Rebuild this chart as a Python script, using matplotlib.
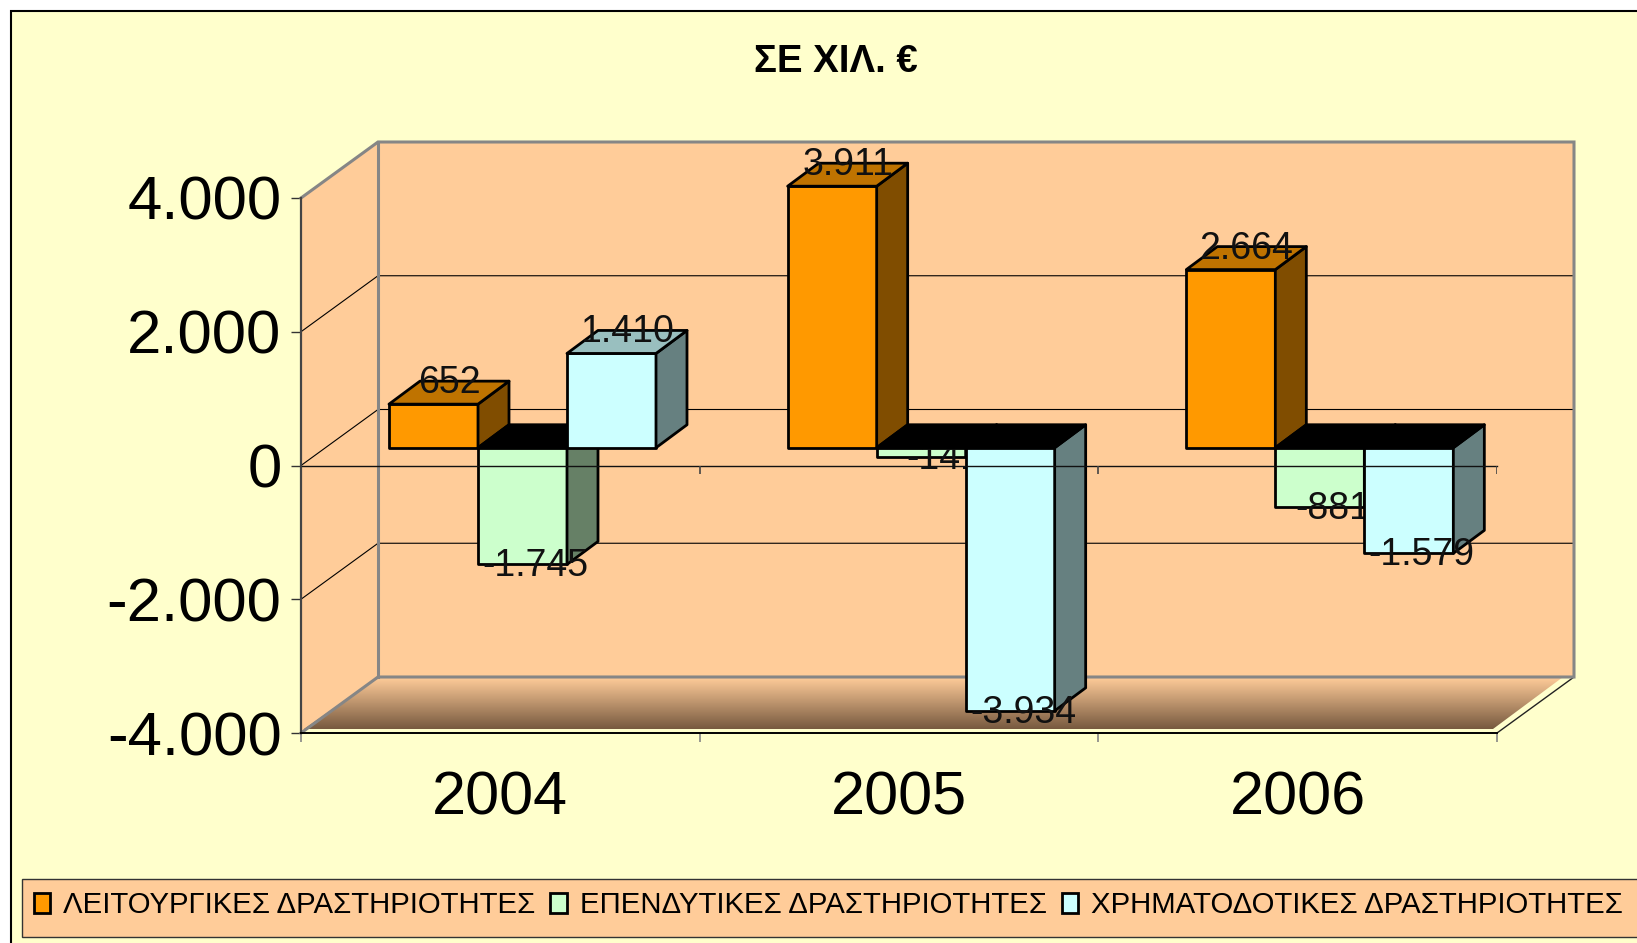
import numpy as np
import matplotlib
matplotlib.use("Agg")
import matplotlib.pyplot as plt
from matplotlib.colors import LinearSegmentedColormap
from matplotlib.patches import Patch, Polygon, Rectangle

plt.rcParams['font.family'] = ['Liberation Sans', 'DejaVu Sans']

years = ['2004', '2005', '2006']
series_names = ['ΛΕΙΤΟΥΡΓΙΚΕΣ ΔΡΑΣΤΗΡΙΟΤΗΤΕΣ', 'ΕΠΕΝΔΥΤΙΚΕΣ ΔΡΑΣΤΗΡΙΟΤΗΤΕΣ', 'ΧΡΗΜΑΤΟΔΟΤΙΚΕΣ ΔΡΑΣΤΗΡΙΟΤΗΤΕΣ']
operating = [652, 3911, 2664]
investing = [-1745, -141, -881]
financing = [1410, -3934, -1579]
y_ticks = [-4000, -2000, 0, 2000, 4000]
y_labels = ['-4.000', '-2.000', '0', '2.000', '4.000']

W, H = 1637, 943
YELLOW = '#FFFFCC'
PEACH = '#FFCC99'
GRAY = '#868686'
# front, top, side
colors = [('#FF9900', '#BF7300', '#804D00'),
          ('#CCFFCC', '#99BF99', '#668066'),
          ('#CCFFFF', '#99BFBF', '#668080')]

# pixel sizes of the fake 3d, turned into data units below
PX_X = (1497 - 301) / 3.0
PX_Y = (733 - 198) / 8000.0
WALL_DX = 77 / PX_X
WALL_DY = 56 / PX_Y
BAR_DX = 31 / PX_X
BAR_DY = 23 / PX_Y
BAR_W = 89 / PX_X
BAR_X0 = 88 / PX_X
BASE = 17.75 / PX_Y
EDGE = 2


def fmt(v):
    return f'{v:,}'.replace(',', '.')


def poly(ax, pts, fc, ec='none', lw=0, z=1):
    ax.add_patch(Polygon(pts, closed=True, facecolor=fc, edgecolor=ec, linewidth=lw,
                         zorder=z, clip_on=False, joinstyle='round'))


def bar3d(ax, x, v, cols, z):
    y0, y1 = BASE, BASE + v
    top = max(y0, y1)
    # negative bars show a black lid at the base
    lid = '#000000' if v < 0 else cols[1]
    poly(ax, [(x, y0), (x + BAR_W, y0), (x + BAR_W, y1), (x, y1)], cols[0], 'black', EDGE, z)
    poly(ax, [(x + BAR_W, y0), (x + BAR_W + BAR_DX, y0 + BAR_DY), (x + BAR_W + BAR_DX, y1 + BAR_DY),
              (x + BAR_W, y1)], cols[2], 'black', EDGE, z)
    lid_z = z + 0.2 if v < 0 else z
    poly(ax, [(x, top), (x + BAR_W, top), (x + BAR_W + BAR_DX, top + BAR_DY), (x + BAR_DX, top + BAR_DY)],
         lid, 'black', EDGE, lid_z)
    if v > 0:
        tx, ty = x + BAR_W / 2 + BAR_DX / 2, y1 + 21 / PX_Y
    else:
        tx, ty = x + BAR_W / 2 + 13 / PX_X, y1 - 2 / PX_Y
    if v == investing[1]:
        tx = x + BAR_W / 2 + 23 / PX_X
    ax.text(tx, ty, fmt(v), ha='center', va='center', fontsize=27, color='#111111', zorder=z + 0.1)


fig = plt.figure(figsize=(W / 100, H / 100), dpi=100, facecolor='white')
fig.add_artist(Rectangle((11 / W, 0 - 20 / H), (W + 20) / W, (H - 11 + 20) / H, transform=fig.transFigure,
                         facecolor=YELLOW, edgecolor='black', linewidth=1.5, zorder=-1))

ax = fig.add_axes([301 / W, (H - 733) / H, (1497 - 301) / W, (733 - 198) / H])
ax.patch.set_visible(False)
ax.set_xlim(0, 3)
ax.set_ylim(-4000, 4000)

# walls
poly(ax, [(0, -4000), (WALL_DX, -4000 + WALL_DY), (WALL_DX, 4000 + WALL_DY), (0, 4000)], PEACH)
poly(ax, [(WALL_DX, -4000 + WALL_DY), (3 + WALL_DX, -4000 + WALL_DY), (3 + WALL_DX, 4000 + WALL_DY),
          (WALL_DX, 4000 + WALL_DY)], PEACH)

# floor with gradient
floor_y = -4000 + 4 / PX_Y
floor_pts = [(3 / PX_X, floor_y), (WALL_DX, -4000 + WALL_DY), (3 + WALL_DX - 11 / PX_X, -4000 + WALL_DY),
             (3 - 4 / PX_X, floor_y)]
cmap = LinearSegmentedColormap.from_list('floor', [PEACH, '#785A40'])
im = ax.imshow(np.linspace(0, 1, 64).reshape(-1, 1), cmap=cmap, aspect='auto', zorder=1.2, origin='upper',
               extent=(0, 3 + WALL_DX, floor_y, -4000 + WALL_DY))
clip = Polygon(floor_pts, closed=True, transform=ax.transData)
im.set_clip_box(fig.bbox)
im.set_clip_path(clip)
ax.set_xlim(0, 3)
ax.set_ylim(-4000, 4000)

# grid on the walls
for t in y_ticks[1:-1]:
    ax.plot([0, WALL_DX, 3 + WALL_DX], [t, t + WALL_DY, t + WALL_DY], color='black', lw=0.8, zorder=1.5,
            clip_on=False)
ax.plot([3, 3 + WALL_DX], [-4000, -4000 + WALL_DY], color='#222222', lw=1, zorder=1.5, clip_on=False)
ax.plot([0, WALL_DX, 3 + WALL_DX, 3 + WALL_DX, WALL_DX, 0],
        [4000, 4000 + WALL_DY, 4000 + WALL_DY, -4000 + WALL_DY, -4000 + WALL_DY, -4000],
        color=GRAY, lw=2.2, zorder=1.6, clip_on=False, solid_joinstyle='miter')
ax.plot([WALL_DX, WALL_DX], [-4000 + WALL_DY, 4000 + WALL_DY], color=GRAY, lw=2.2, zorder=1.6, clip_on=False)

# bars, series by series, a later one covers the label of the one before
all_series = [operating, investing, financing]
for s, vals in enumerate(all_series):
    for i, v in enumerate(vals):
        bar3d(ax, i + BAR_X0 + s * BAR_W, v, colors[s], 3 + s)

# zero line runs over the bars
ax.plot([0, 3], [0, 0], color='#111111', lw=1, zorder=6, clip_on=False)
ax.vlines([0, 1, 2, 3], -120, 0, color='#444444', lw=1.2, zorder=6)

for side in ['top', 'right']:
    ax.spines[side].set_visible(False)
ax.spines['left'].set_color('#444444')
ax.spines['left'].set_linewidth(1.6)
ax.spines['bottom'].set_color('black')
ax.spines['bottom'].set_linewidth(1.4)

ax.set_yticks(y_ticks)
ax.set_yticklabels(y_labels, fontsize=44.5)
ax.tick_params(axis='y', length=7, width=1, color='#333333', pad=7)
ax.set_xticks([0.5, 1.5, 2.5])
ax.set_xticklabels(years, fontsize=44)
ax.tick_params(axis='x', which='major', length=0, pad=27)
ax.set_xticks([0, 1, 2, 3], minor=True)
ax.tick_params(axis='x', which='minor', length=6.5, width=1.2, color=GRAY)

fig.text(836 / W, 1 - 62 / H, 'ΣΕ ΧΙΛ. €', ha='center', va='center', fontsize=27.6, fontweight='bold')

# legend band runs off the right edge of the picture
fig.add_artist(Rectangle((22 / W, (H - 937) / H), (W + 20) / W, 58 / H, transform=fig.transFigure,
                         facecolor=PEACH, edgecolor='#333333', linewidth=1, zorder=4))
handles = [Patch(facecolor=c[0], edgecolor='black', linewidth=2, label=n) for c, n in zip(colors, series_names)]
leg = fig.legend(handles=handles, ncol=3, loc='center left', bbox_to_anchor=(34 / W, (H - 905) / H),
                 fontsize=21.2, frameon=False, borderaxespad=0, borderpad=0, handlelength=0.56, handleheight=0.68,
                 handletextpad=0.44, columnspacing=0.5)

fig.savefig('out.png', dpi=100, facecolor=fig.get_facecolor())
